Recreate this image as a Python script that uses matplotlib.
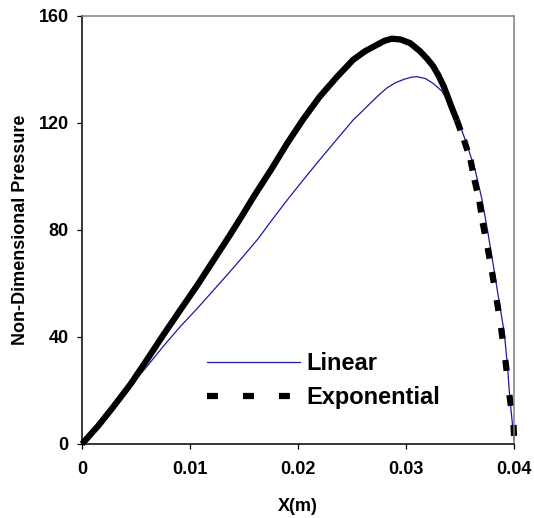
import numpy as np
import matplotlib
matplotlib.use('Agg')
import matplotlib.pyplot as plt
from matplotlib.collections import LineCollection
from matplotlib.lines import Line2D

plt.rcParams['font.family'] = ['Liberation Sans', 'DejaVu Sans']
plt.rcParams['font.weight'] = 'bold'
plt.rcParams['lines.scale_dashes'] = False

# values
lin_x = [0.0, 0.0015, 0.0029, 0.0045, 0.0060, 0.0075, 0.0091, 0.0107, 0.0122,
         0.0137, 0.0150, 0.0163, 0.0176, 0.0190, 0.0205, 0.0220, 0.0236,
         0.0251, 0.0260, 0.0267, 0.0275, 0.0282, 0.0290, 0.0298, 0.0305, 0.0310,
         0.0318, 0.0325, 0.0333, 0.0340, 0.0347, 0.0356, 0.0364, 0.0370, 0.0375,
         0.0381, 0.0386, 0.0391, 0.0394, 0.0396, 0.0398, 0.0400]
lin_y = [0.0, 7.5, 14.4, 21.7, 28.9, 36.4, 43.9, 50.8, 57.6,
         64.4, 70.5, 76.7, 83.8, 91.2, 98.8, 106.2, 113.9,
         121.1, 124.6, 127.4, 130.5, 133.0, 135.0, 136.3, 137.1, 137.3,
         136.6, 134.8, 132.0, 127.8, 122.3, 112.4, 102.4, 92.0, 81.0,
         66.3, 53.8, 41.5, 28.9, 17.7, 9.5, 1.5]

exp_x = [0.0, 0.0015, 0.0029, 0.0045, 0.0060, 0.0075, 0.0091, 0.0107, 0.0122,
         0.0136, 0.0148, 0.0159, 0.0175, 0.0190, 0.0205, 0.0220, 0.0236,
         0.0251, 0.0262, 0.0273, 0.0280, 0.0287, 0.0295, 0.0304, 0.0313,
         0.0320, 0.0325, 0.0330, 0.0335, 0.0342, 0.0347,
         0.03537, 0.03597, 0.03634, 0.03680, 0.03710, 0.03756, 0.03796, 0.03840,
         0.03880, 0.03920, 0.03957, 0.03995, 0.0400]
exp_y = [0.0, 6.8, 13.9, 22.4, 31.4, 40.6, 50.1, 59.5, 68.8,
         77.5, 85.2, 92.5, 102.5, 112.4, 121.5, 129.8, 137.2,
         143.6, 146.8, 149.2, 150.7, 151.5, 151.2, 149.8, 146.8,
         143.8, 141.3, 137.8, 133.6, 126.1, 121.1,
         113.6, 106.2, 98.7, 90.6, 82.6, 73.3, 64.3, 53.8,
         43.4, 31.4, 18.3, 7.1, 3.0]

x_ticks = [0, 0.01, 0.02, 0.03, 0.04]
x_tick_labels = ['0', '0.01', '0.02', '0.03', '0.04']
y_ticks = [0, 40, 80, 120, 160]

DASH_FROM = 0.0347          # Excel drew the sparse tail as separate dashed segments
EXP_LW = 4.5
EXP_DASH = (7.9, 18.0)
BLUE = '#1a1aa6'

fig = plt.figure(figsize=(5.34, 5.18), dpi=100)
ax = fig.add_axes([0.1536, 0.1429, 0.8090, 0.8263])

ax.plot(lin_x, lin_y, color=BLUE, lw=0.9, clip_on=False)

# dense part of the exponential curve: solid
k = next(i for i, v in enumerate(exp_x) if v >= DASH_FROM)
ax.plot(exp_x[:k + 1], exp_y[:k + 1], color='black', lw=EXP_LW,
        solid_capstyle='butt', solid_joinstyle='round', clip_on=False)
# sparse part: each segment restarts its dash pattern
segs = [[(exp_x[i], exp_y[i]), (exp_x[i + 1], exp_y[i + 1])] for i in range(k, len(exp_x) - 1)]
lc = LineCollection(segs, colors='black', linewidths=EXP_LW,
                    linestyles=[(0, EXP_DASH)], capstyle='butt', clip_on=False)
ax.add_collection(lc)

ax.set_xlim(0, 0.04)
ax.set_ylim(0, 160)
ax.set_xticks(x_ticks)
ax.set_xticklabels(x_tick_labels)
ax.set_yticks(y_ticks)
ax.tick_params(direction='out', length=3.6, width=0.9, labelsize=13, colors='black')
ax.tick_params(axis='x', pad=9)
ax.tick_params(axis='y', pad=6)

for s in ['left', 'bottom']:
    ax.spines[s].set_color('black')
    ax.spines[s].set_linewidth(1.1)
for s in ['top', 'right']:
    ax.spines[s].set_color('#808080')
    ax.spines[s].set_linewidth(1.1)

ax.set_xlabel('X(m)', fontsize=13, fontweight='bold', labelpad=14)
ax.set_ylabel('Non-Dimensional Pressure', fontsize=13, fontweight='bold', labelpad=7)

handles = [Line2D([], [], color=BLUE, lw=0.9),
           Line2D([], [], color='black', lw=EXP_LW, dashes=EXP_DASH, dash_capstyle='butt')]
ax.legend(handles, ['Linear', 'Exponential'], loc='upper left',
          bbox_to_anchor=(0.2894, 0.2145), frameon=False, borderpad=0,
          borderaxespad=0, handlelength=3.94, handletextpad=0.25, labelspacing=0.45,
          prop={'family': 'Liberation Sans', 'weight': 'bold', 'size': 17})

fig.savefig('out.png', dpi=100)
